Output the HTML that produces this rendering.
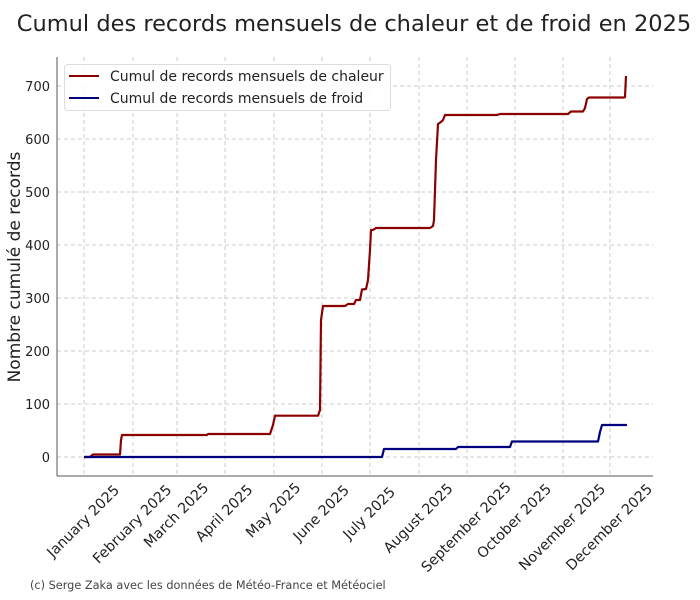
<!DOCTYPE html>
<html><head><meta charset="utf-8"><style>body{margin:0;background:#fff}svg{display:block;font-family:"DejaVu Sans","Liberation Sans",sans-serif}</style></head>
<body>
<svg width="700" height="600" viewBox="0 0 700 600" xmlns="http://www.w3.org/2000/svg">
<text x="354" y="31" font-size="22.5" text-anchor="middle" fill="#222">Cumul des records mensuels de chaleur et de froid en 2025</text>
<g stroke="#ccc" stroke-dasharray="4,3" stroke-width="1">
<line x1="57" x2="653" y1="457" y2="457"/><line x1="57" x2="653" y1="404" y2="404"/><line x1="57" x2="653" y1="351" y2="351"/><line x1="57" x2="653" y1="298" y2="298"/><line x1="57" x2="653" y1="245" y2="245"/><line x1="57" x2="653" y1="192" y2="192"/><line x1="57" x2="653" y1="139" y2="139"/><line x1="57" x2="653" y1="86" y2="86"/>
<line x1="84" x2="84" y1="57" y2="476"/><line x1="133" x2="133" y1="57" y2="476"/><line x1="177" x2="177" y1="57" y2="476"/><line x1="225" x2="225" y1="57" y2="476"/><line x1="274" x2="274" y1="57" y2="476"/><line x1="322" x2="322" y1="57" y2="476"/><line x1="370" x2="370" y1="57" y2="476"/><line x1="419" x2="419" y1="57" y2="476"/><line x1="467" x2="467" y1="57" y2="476"/><line x1="515" x2="515" y1="57" y2="476"/><line x1="563" x2="563" y1="57" y2="476"/><line x1="610" x2="610" y1="57" y2="476"/>
</g>
<g stroke="#555" stroke-width="1"><line x1="57" x2="57" y1="57" y2="476"/><line x1="57" x2="653" y1="476" y2="476"/></g>
<g font-size="13" fill="#222" text-anchor="end">
<text x="50" y="462">0</text><text x="50" y="409">100</text><text x="50" y="356">200</text><text x="50" y="303">300</text><text x="50" y="250">400</text><text x="50" y="197">500</text><text x="50" y="144">600</text><text x="50" y="91">700</text>
</g>
<text transform="translate(20,267) rotate(-90)" font-size="17" text-anchor="middle" fill="#222">Nombre cumulé de records</text>
<g font-size="14.3" fill="#222" text-anchor="middle">
<text transform="translate(83,521) rotate(-45)" dy="5">January 2025</text>
<text transform="translate(132,524) rotate(-45)" dy="5">February 2025</text>
<text transform="translate(176,515) rotate(-45)" dy="5">March 2025</text>
<text transform="translate(224,513) rotate(-45)" dy="5">April 2025</text>
<text transform="translate(273,510) rotate(-45)" dy="5">May 2025</text>
<text transform="translate(321,513) rotate(-45)" dy="5">June 2025</text>
<text transform="translate(369,513) rotate(-45)" dy="5">July 2025</text>
<text transform="translate(418,518) rotate(-45)" dy="5">August 2025</text>
<text transform="translate(466,527) rotate(-45)" dy="5">September 2025</text>
<text transform="translate(514,521) rotate(-45)" dy="5">October 2025</text>
<text transform="translate(562,527) rotate(-45)" dy="5">November 2025</text>
<text transform="translate(609,527) rotate(-45)" dy="5">December 2025</text>
</g>
<polyline fill="none" stroke="#8b0000" stroke-width="2.2" stroke-linejoin="round" points="84,457 90,457 93,454.5 120,454.5 121,440 122,435 207,435 208,434 270,434 273,425 275,415.7 318,415.7 320,410 321,320 323,306 345,306 348,304 354,304 356,300 360,300 362,289.5 366,289 368,280 370,250 371,230 373,230 376,228 430,228 433,226 434,220 436,160 438,124 441,122 443,120 445,115 446,115 497,115 500,114 568,114 571,111.5 583,111.5 585,108 587,99 589,97.5 624,97.5 625,97 626,76"/>
<polyline fill="none" stroke="#00007f" stroke-width="2.2" stroke-linejoin="round" points="84,457 382,457 384,449 456,449 458,447 510,447 512,441.5 598,441.5 600,432 602,425 627,425"/>
<rect x="64.5" y="64.5" width="326" height="46" rx="3" fill="#fff" fill-opacity="0.85" stroke="#ddd"/>
<line x1="69" x2="99" y1="76" y2="76" stroke="#8b0000" stroke-width="2"/>
<line x1="69" x2="99" y1="98" y2="98" stroke="#00007f" stroke-width="2"/>
<text x="110" y="81" font-size="14" fill="#222">Cumul de records mensuels de chaleur</text>
<text x="110" y="103" font-size="14" fill="#222">Cumul de records mensuels de froid</text>
<text x="30" y="589" font-size="11.3" fill="#444">(c) Serge Zaka avec les données de Météo-France et Météociel</text>
</svg>
</body></html>
